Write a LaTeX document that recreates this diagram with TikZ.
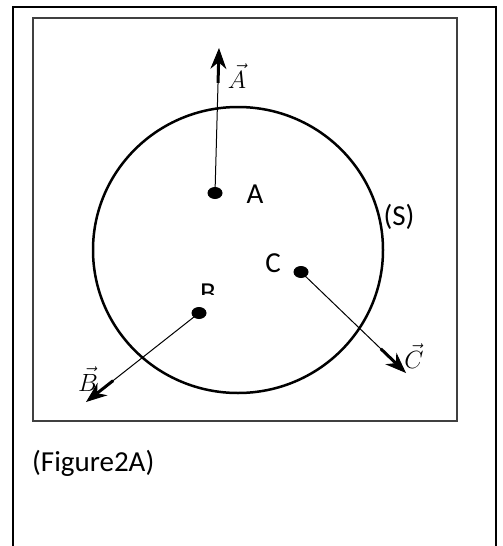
\documentclass[tikz,border=0pt]{standalone}
\usepackage{fontspec}
\setmainfont{Carlito}
\usetikzlibrary{arrows.meta,calc,shapes.geometric}
\tikzset{
  frameline/.style={line width=2pt, black},
  innerbox/.style={line width=1.4pt, black!75},
  circ/.style={line width=2.5pt, black},
  pt/.style={ellipse, fill=black, minimum width=15pt, minimum height=12pt, inner sep=0pt},
  vec/.style={line width=1pt, -{Stealth[length=21pt,width=16pt]}},
  thickpart/.style={line width=3pt},
  lbl/.style={font=\fontsize{29}{32}\selectfont, inner sep=0pt},
  vlbl/.style={font=\fontsize{28}{32}\selectfont, inner sep=0pt},
}
\begin{document}
\begin{tikzpicture}[x=1pt,y=-1pt]
\useasboundingbox (0,0) rectangle (503,546);
\fill[white] (0,0) rectangle (503,546);
% outer frame
\draw[frameline] (13,546) -- (13,7) -- (496,7) -- (496,546);
% inner box
\draw[innerbox] (33,18) rectangle (457,421);
% sphere (S)
\node[draw, circ, ellipse, minimum width=290pt, minimum height=286pt, inner sep=0pt] (S) at (238,250) {};
\node[lbl] (Slbl) at (399,217) {(S)};
% points
\node[pt] (A) at (215,193) {};
\node[pt] (B) at (199,313) {};
\node[pt] (C) at (301,272) {};
\node[lbl] (Albl) at (255,194) {A};
\node[lbl] (Clbl) at (273,263) {C};
\begin{scope}
\clip (190,270) rectangle (228,294);
\node[lbl] (Blbl) at (208,293) {B};
\end{scope}
% arrow tips
\coordinate (At) at (219,48);
\coordinate (Bt) at (86,402);
\coordinate (Ct) at (406,373);
\draw[vec] (A.center) -- (At);
\draw[vec] (B.center) -- (Bt);
\draw[vec] (C.center) -- (Ct);
\draw[thickpart] ($(A.center)!0.76!(At)$) -- ($(A.center)!0.9!(At)$);
\draw[thickpart] ($(B.center)!0.76!(Bt)$) -- ($(B.center)!0.9!(Bt)$);
\draw[thickpart] ($(C.center)!0.76!(Ct)$) -- ($(C.center)!0.9!(Ct)$);
% vector labels
\node[vlbl] (Av) at (237,76) {$\vec{A}$};
\node[vlbl] (Bv) at (88,379) {$\vec{B}$};
\node[vlbl] (Cv) at (414,356) {$\vec{C}$};
% caption
\node[lbl, anchor=west] (cap) at (32,463) {(Figure2A)};
\end{tikzpicture}
\end{document}
